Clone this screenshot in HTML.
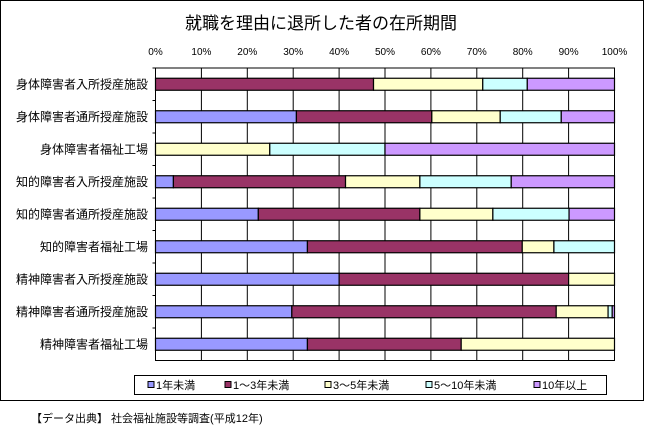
<!DOCTYPE html>
<html><head><meta charset="utf-8"><style>
body{margin:0;background:#fff;}
svg text{font-family:"Liberation Sans","Noto Sans CJK JP",sans-serif;}
</style></head><body>
<svg id="chart" width="645" height="427" viewBox="0 0 645 427">
<rect x="0.5" y="0.5" width="643" height="400" fill="#fff" stroke="#000"/>
<text x="321" y="29" font-size="17" text-anchor="middle">就職を理由に退所した者の在所期間</text>
<g id="grid"></g><g id="bars"></g><g id="labels"></g>
<rect x="134.5" y="375.5" width="472" height="19" fill="#fff" stroke="#000"/>
<g id="legend"></g>
<text x="31" y="422" font-size="11">【データ出典】 社会福祉施設等調査(平成12年)</text>
</svg>
<script>
const categories=["身体障害者入所授産施設","身体障害者通所授産施設","身体障害者福祉工場","知的障害者入所授産施設","知的障害者通所授産施設","知的障害者福祉工場","精神障害者入所授産施設","精神障害者通所授産施設","精神障害者福祉工場"];
const seriesNames=["1年未満","1～3年未満","3～5年未満","5～10年未満","10年以上"];
const s1=[0,30.7,0,3.9,22.4,33.1,40,29.7,33.1];
const s2=[47.5,29.5,0,37.5,35.2,46.8,50,57.6,33.5];
const s3=[23.8,14.9,24.9,16.2,15.9,6.9,10,11.3,33.4];
const s4=[9.7,13.3,25.1,19.9,16.6,13.2,0,0.9,0];
const s5=[19.0,11.6,50,22.5,9.9,0,0,0.5,0];
const ticks=["0%","10%","20%","30%","40%","50%","60%","70%","80%","90%","100%"];
const colors=["#9999FF","#993366","#FFFFCC","#CCFFFF","#CC99FF"];
const series=[s1,s2,s3,s4,s5];
const L=155.5,R=614.5,T=68,B=360.5;
const xs=v=>L+(R-L)*v/100;
const rowH=(B-T)/categories.length;
const yc=i=>T+rowH*(i+0.5);
const NS="http://www.w3.org/2000/svg";
function mk(t,a,p){const e=document.createElementNS(NS,t);for(const k in a)e.setAttribute(k,a[k]);p.appendChild(e);return e;}
const grid=document.getElementById('grid'),bars=document.getElementById('bars'),labels=document.getElementById('labels'),leg=document.getElementById('legend');
mk('rect',{x:L,y:T,width:R-L,height:B-T,fill:'#fff',stroke:'#000','stroke-width':1},grid);
ticks.forEach((t,i)=>{const x=xs(i*10);
 const g=mk('line',{x1:x,x2:x,y1:T,y2:B,stroke:'#000','stroke-width':1},grid);
 
 
 const tx=mk('text',{x:x,y:55,'font-size':10,'text-anchor':'middle'},labels);tx.textContent=t;
 
 
});
categories.forEach((c,i)=>{
 const y=yc(i);
 const tx=mk('text',{x:148,y:y+4,'font-size':12,'text-anchor':'end'},labels);tx.textContent=c;
 
 
 mk('line',{x1:L-3,x2:L,y1:T+rowH*i,y2:T+rowH*i,stroke:'#000'},grid);
 let acc=0;
 series.forEach((s,j)=>{const v=s[i];if(v<=0)return;
  const r=mk('rect',{x:xs(acc),y:y-6,width:xs(acc+v)-xs(acc),height:12,fill:colors[j],stroke:'#000','stroke-width':1.2},bars);
  
  
  acc+=v;});
});
const lx=[148,225,325,426,534];
seriesNames.forEach((n,j)=>{
 const r=mk('rect',{x:lx[j],y:381.5,width:6,height:6,fill:colors[j],stroke:'#000'},leg);
 
 
 const t=mk('text',{x:lx[j]+8,y:389,'font-size':11},leg);t.textContent=n;
 
 
});
</script>
</body></html>
